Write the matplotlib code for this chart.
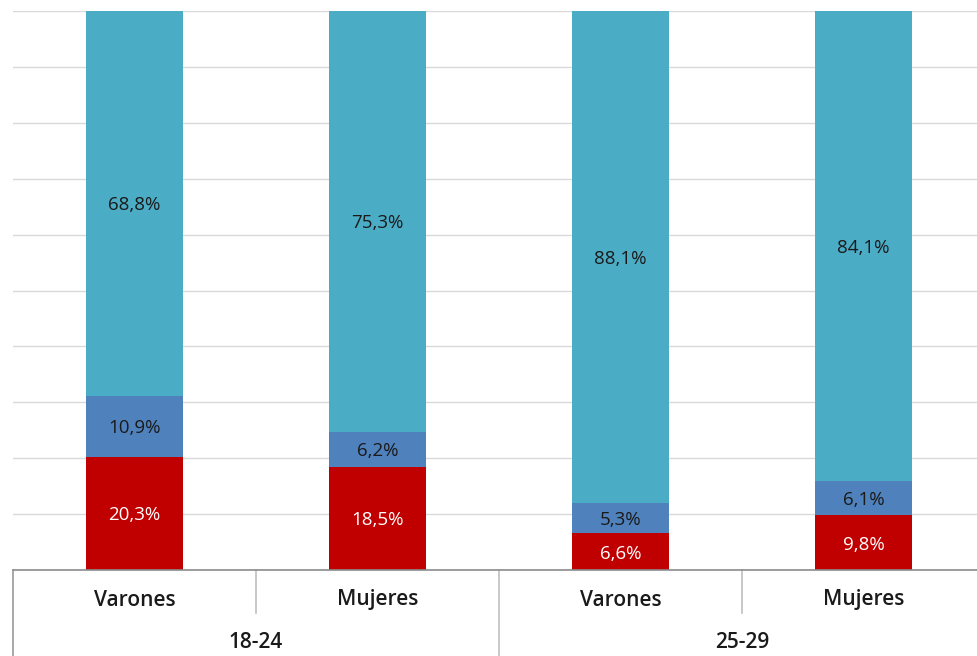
import matplotlib.pyplot as plt
import numpy as np

# Datos (porcentajes)
sexos = ["Varones", "Mujeres", "Varones", "Mujeres"]
grupos = ["18-24", "25-29"]
serie_roja = [20.3, 18.5, 6.6, 9.8]
serie_azul = [10.9, 6.2, 5.3, 6.1]
serie_cian = [68.8, 75.3, 88.1, 84.1]

plt.rcParams['font.family'] = ['Open Sans', 'DejaVu Sans']

W, H = 978, 656
fig = plt.figure(figsize=(W / 100, H / 100), dpi=100)
# eje: izquierda en x=13px, base en y=570px, techo en y=11px
ax = fig.add_axes([13 / W, (H - 570) / H, 972 / W, 559 / H])

x = np.arange(len(sexos))
ancho = 0.4
colores = ["#C00000", "#4F81BD", "#4BACC6"]
colores_texto = ["white", "#1a1a1a", "#1a1a1a"]

abajo = np.zeros(len(sexos))
for serie, color, ctext in zip([serie_roja, serie_azul, serie_cian], colores, colores_texto):
    vals = np.array(serie)
    ax.bar(x, vals, ancho, bottom=abajo, color=color, zorder=2)
    for xi, b, v in zip(x, abajo, vals):
        ax.text(xi, b + v / 2, f"{v:.1f}%".replace(".", ","), ha="center", va="center_baseline",
                fontsize=13.5, color=ctext, zorder=3)
    abajo += vals

ax.set_xlim(-0.5, 3.5)
ax.set_ylim(0, 100)
ax.set_yticks(np.arange(0, 101, 10))
ax.yaxis.grid(True, color="#d9d9d9", linewidth=1)
ax.set_axisbelow(True)
ax.tick_params(left=False, labelleft=False, bottom=False, labelbottom=False)
for lado in ["top", "right", "left"]:
    ax.spines[lado].set_visible(False)
ax.spines["bottom"].set_color("#8c8c8c")
ax.spines["bottom"].set_linewidth(1.2)
ax.spines["bottom"].set_zorder(4)

# etiquetas del eje de categorías (dos niveles)
trans = ax.get_xaxis_transform()
px = 1 / 559  # un píxel en fracción del eje
for xi, s in zip(x, sexos):
    ax.text(xi, -30 * px, s, transform=trans, ha="center", va="center",
            fontsize=15, fontweight="semibold", color="#1a1a1a", clip_on=False)
for gi, g in enumerate(grupos):
    ax.text(2 * gi + 0.5, -73 * px, g, transform=trans, ha="center", va="center",
            fontsize=15, fontweight="semibold", color="#1a1a1a", clip_on=False)

# líneas separadoras
ax.plot([-0.5, -0.5], [0, -90 * px], transform=trans, color="#999999", lw=1.2, clip_on=False)
ax.plot([1.5, 1.5], [0, -90 * px], transform=trans, color="#bfbfbf", lw=1.2, clip_on=False)
for xs in [0.5, 2.5]:
    ax.plot([xs, xs], [0, -43 * px], transform=trans, color="#bfbfbf", lw=1.2, clip_on=False)

fig.savefig("out.png", dpi=100)
